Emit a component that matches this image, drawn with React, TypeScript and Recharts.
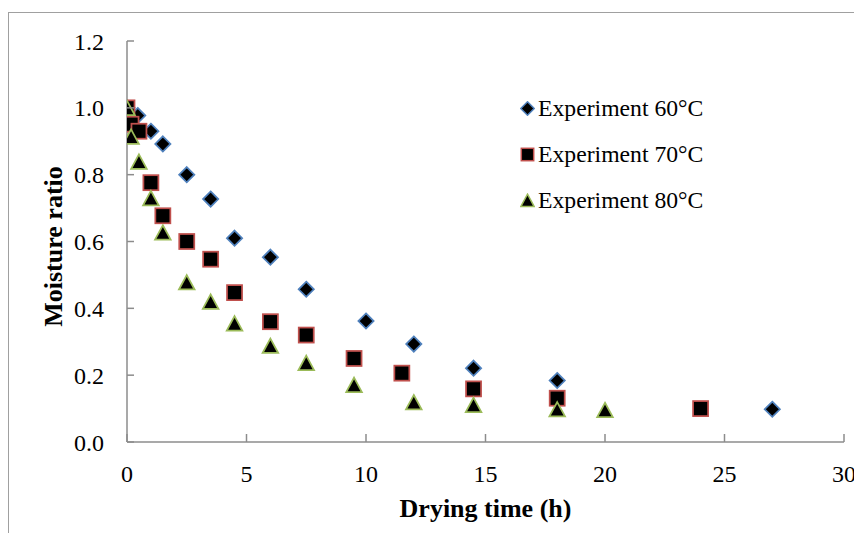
import React from 'react';
import { ScatterChart, Scatter, XAxis, YAxis, Label } from 'recharts';

// Drying time (h) and moisture ratio for each drying temperature
const time60 = [0, 0.45, 1, 1.5, 2.5, 3.5, 4.5, 6, 7.5, 10, 12, 14.5, 18, 27];
const mr60 = [1.0, 0.977, 0.93, 0.892, 0.8, 0.727, 0.61, 0.553, 0.457, 0.362, 0.293, 0.221, 0.184, 0.098];

const time70 = [0, 0.17, 0.5, 1, 1.5, 2.5, 3.5, 4.5, 6, 7.5, 9.5, 11.5, 14.5, 18, 24];
const mr70 = [1.0, 0.951, 0.93, 0.776, 0.677, 0.6, 0.547, 0.447, 0.36, 0.32, 0.25, 0.206, 0.159, 0.131, 0.1];

const time80 = [0, 0.17, 0.5, 1, 1.5, 2.5, 3.5, 4.5, 6, 7.5, 9.5, 12, 14.5, 18, 20];
const mr80 = [1.0, 0.914, 0.839, 0.73, 0.627, 0.478, 0.42, 0.355, 0.288, 0.237, 0.171, 0.119, 0.111, 0.098, 0.096];

const seriesNames = ['Experiment 60°C', 'Experiment 70°C', 'Experiment 80°C'];
const xTicks = [0, 5, 10, 15, 20, 25, 30];
const yTicks = [0, 0.2, 0.4, 0.6, 0.8, 1.0, 1.2];
const xTitle = 'Drying time (h)';
const yTitle = 'Moisture ratio';

const toPoints = (xs: number[], ys: number[]) => xs.map((x, i) => ({ x, y: ys[i] }));
const data60 = toPoints(time60, mr60);
const data70 = toPoints(time70, mr70);
const data80 = toPoints(time80, mr80);

const FONT = '"Liberation Serif", "Times New Roman", Times, serif';
const AXIS = '#8c8c8c';
const BLUE = '#4F81BD';
const RED = '#C0504D';
const GREEN = '#9BBB59';

const DiamondShape = (props: any) => {
  const { cx, cy } = props;
  const h = 7.6;
  return (
    <polygon
      points={`${cx},${cy - h} ${cx + h},${cy} ${cx},${cy + h} ${cx - h},${cy}`}
      fill="#000"
      stroke={BLUE}
      strokeWidth={1.75}
    />
  );
};

const SquareShape = (props: any) => {
  const { cx, cy } = props;
  const s = 15;
  return <rect x={cx - s / 2} y={cy - s / 2} width={s} height={s} fill="#000" stroke={RED} strokeWidth={1.75} />;
};

const TriangleShape = (props: any) => {
  const { cx, cy } = props;
  return (
    <polygon
      points={`${cx},${cy - 7.2} ${cx + 7.8},${cy + 7.2} ${cx - 7.8},${cy + 7.2}`}
      fill="#000"
      stroke={GREEN}
      strokeWidth={1.75}
      strokeLinejoin="miter"
    />
  );
};

const YTick = (props: any) => {
  const { x, y, payload } = props;
  return (
    <g>
      <line x1={x} y1={y} x2={x + 7} y2={y} stroke={AXIS} strokeWidth={1.5} />
      <text x={x - 23} y={y} dy={8.5} textAnchor="end" fontSize={24} fontFamily={FONT} fill="#000">
        {Number(payload.value).toFixed(1)}
      </text>
    </g>
  );
};

const XTick = (props: any) => {
  const { x, y, payload } = props;
  return (
    <g>
      <line x1={x} y1={y} x2={x} y2={y - 8} stroke={AXIS} strokeWidth={1.5} />
      <text x={x} y={y + 39.5} textAnchor="middle" fontSize={24} fontFamily={FONT} fill="#000">
        {payload.value}
      </text>
    </g>
  );
};

const XTitle = (props: any) => {
  const vb = props.viewBox || { x: 119, y: 434, width: 717, height: 91 };
  return (
    <text
      x={vb.x + vb.width / 2}
      y={vb.y + 75}
      textAnchor="middle"
      fontSize={26}
      fontWeight="bold"
      fontFamily={FONT}
      fill="#000"
    >
      {xTitle}
    </text>
  );
};

const YTitle = (props: any) => {
  const vb = props.viewBox || { x: 0, y: 33, width: 119, height: 401 };
  const cx = 53.5;
  const cy = vb.y + vb.height / 2 + 5;
  return (
    <text
      x={cx}
      y={cy}
      transform={`rotate(-90 ${cx} ${cy})`}
      textAnchor="middle"
      fontSize={26}
      fontWeight="bold"
      fontFamily={FONT}
      fill="#000"
    >
      {yTitle}
    </text>
  );
};

const legendMarkers = [
  <polygon key="d" points="7.5,0.8 14.2,7.5 7.5,14.2 0.8,7.5" fill="#000" stroke={BLUE} strokeWidth={1.5} />,
  <rect key="s" x={1.3} y={1.3} width={12.4} height={12.4} fill="#000" stroke={RED} strokeWidth={1.5} />,
  <polygon key="t" points="7.5,1.2 14.2,13.6 0.8,13.6" fill="#000" stroke={GREEN} strokeWidth={1.5} />,
];

export default function App() {
  return (
    <div style={{ position: 'relative', width: 854, height: 525, overflow: 'hidden', fontFamily: FONT }}>
      <div
        style={{
          position: 'absolute',
          left: 0,
          top: 4,
          width: 900,
          height: 600,
          borderLeft: '1.5px solid #a0a0a0',
          borderTop: '1.5px solid #a0a0a0',
        }}
      />
      <div style={{ position: 'absolute', left: 0, top: 0 }}>
        <ScatterChart width={854} height={525} margin={{ top: 33, right: 18, bottom: 0, left: 0 }}>
          <XAxis
            type="number"
            dataKey="x"
            domain={[0, 30]}
            ticks={xTicks}
            interval={0}
            height={91}
            tickSize={0}
            tickMargin={0}
            tickLine={false}
            tick={<XTick />}
            axisLine={{ stroke: AXIS, strokeWidth: 1.5 }}
            allowDataOverflow
          >
            <Label content={<XTitle />} />
          </XAxis>
          <YAxis
            type="number"
            dataKey="y"
            domain={[0, 1.2]}
            ticks={yTicks}
            interval={0}
            width={119}
            tickSize={0}
            tickMargin={0}
            tickLine={false}
            tick={<YTick />}
            axisLine={{ stroke: AXIS, strokeWidth: 1.5 }}
            allowDataOverflow
          >
            <Label content={<YTitle />} />
          </YAxis>
          <Scatter name={seriesNames[0]} data={data60} shape={DiamondShape} isAnimationActive={false} />
          <Scatter name={seriesNames[1]} data={data70} shape={SquareShape} isAnimationActive={false} />
          <Scatter name={seriesNames[2]} data={data80} shape={TriangleShape} isAnimationActive={false} />
        </ScatterChart>
      </div>
      <div style={{ position: 'absolute', left: 512, top: 77, fontSize: 23.7, color: '#000' }}>
        {seriesNames.map((name, i) => (
          <div key={name} style={{ height: 46, display: 'flex', alignItems: 'center', whiteSpace: 'nowrap' }}>
            <svg width={15} height={15} style={{ display: 'block' }}>
              {legendMarkers[i]}
            </svg>
            <span style={{ marginLeft: 3 }}>{name}</span>
          </div>
        ))}
      </div>
    </div>
  );
}
